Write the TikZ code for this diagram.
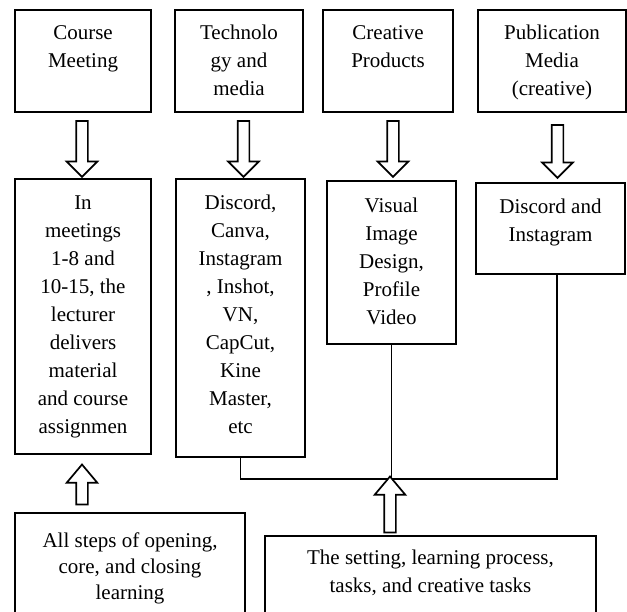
\documentclass[tikz,border=0pt]{standalone}
\usepackage{fontspec}
\setmainfont{Liberation Serif}
\usetikzlibrary{positioning, shapes.arrows}
\tikzset{
    box/.style={draw, line width=1.7pt, inner sep=0pt},
    boxtext/.style={font=\fontsize{21pt}{28pt}\selectfont, align=center, inner sep=0pt},
    link/.style={line width=1.7pt},
    hollowarrow/.style={single arrow, draw, fill=white, line width=1.7pt, inner sep=5pt,
        single arrow head extend=9.5pt, minimum width=29pt},
    blockdown/.style={hollowarrow, single arrow tip angle=90, rotate=-90},
    blockup/.style={hollowarrow, single arrow tip angle=80, rotate=90}
}

\begin{document}
\begin{tikzpicture}[x=1pt, y=-1pt]
    \useasboundingbox (0,0) rectangle (627,612);
    \clip (0,0) rectangle (627,612);

    % top row
    \node[box, minimum width=136pt, minimum height=102pt] (meet) at (83,61) {};
    \node[box, minimum width=128pt, minimum height=102pt] (tech) at (239,61) {};
    \node[box, minimum width=130pt, minimum height=102pt] (prod) at (388,61) {};
    \node[box, minimum width=148pt, minimum height=102pt] (pub) at (552,61) {};
    \node[boxtext, below=16pt of meet.north] (meettxt) {Course\\Meeting};
    \node[boxtext, below=16pt of tech.north] (techtxt) {Technolo\\gy and\\media};
    \node[boxtext, below=16pt of prod.north] (prodtxt) {Creative\\Products};
    \node[boxtext, below=16pt of pub.north] (pubtxt) {Publication\\Media\\(creative)};

    % middle row
    \node[box, minimum width=136pt, minimum height=275pt] (meetings) at (83,316.5) {};
    \node[box, minimum width=129pt, minimum height=278pt] (tools) at (240.5,318) {};
    \node[box, minimum width=129pt, minimum height=163pt] (design) at (391.5,262.5) {};
    \node[box, minimum width=149pt, minimum height=91pt] (insta) at (550.5,228.5) {};
    \node[boxtext, below=17pt of meetings.north] (meetingstxt)
        {In\\meetings\\1-8 and\\10-15, the\\lecturer\\delivers\\material\\and course\\assignmen};
    \node[boxtext, below=17pt of tools.north] (toolstxt)
        {Discord,\\Canva,\\Instagram\\, Inshot,\\VN,\\CapCut,\\Kine\\Master,\\etc};
    \node[boxtext, below=18pt of design.north] (designtxt) {Visual\\Image\\Design,\\Profile\\Video};
    \node[boxtext, below=17pt of insta.north] (instatxt) {Discord and\\Instagram};

    % bottom row
    \node[box, minimum width=230pt, minimum height=127pt] (steps) at (130,576.5) {};
    \node[box, minimum width=331pt, minimum height=124pt] (setting) at (430.5,598) {};
    \node[boxtext, font=\fontsize{21pt}{26pt}\selectfont, below=20pt of steps.north] (stepstxt)
        {All steps of opening,\\core, and closing\\learning};
    \node[boxtext, below=15pt of setting.north] (settingtxt)
        {The setting, learning process,\\tasks, and creative tasks};

    % block arrows
    \node[blockdown, minimum height=56pt] (a1) at (82,146) {};
    \node[blockdown, minimum height=56pt] (a2) at (243.5,146) {};
    \node[blockdown, minimum height=56pt] (a3) at (393,146) {};
    \node[blockdown, minimum height=53pt] (a4) at (557.5,148.5) {};
    \node[blockup, minimum height=40pt] (a5) at (82,488) {};

    % bus to the bottom right box
    \coordinate (hub) at (391,479);
    \coordinate (busR) at (557,479);
    \draw[link] (tools.south) |- (busR) -- (busR |- insta.south);
    \draw[link] (design.south) -- (design.south |- hub);
    \node[blockup, minimum height=56pt] (a6) at (390,508) {};
\end{tikzpicture}
\end{document}
